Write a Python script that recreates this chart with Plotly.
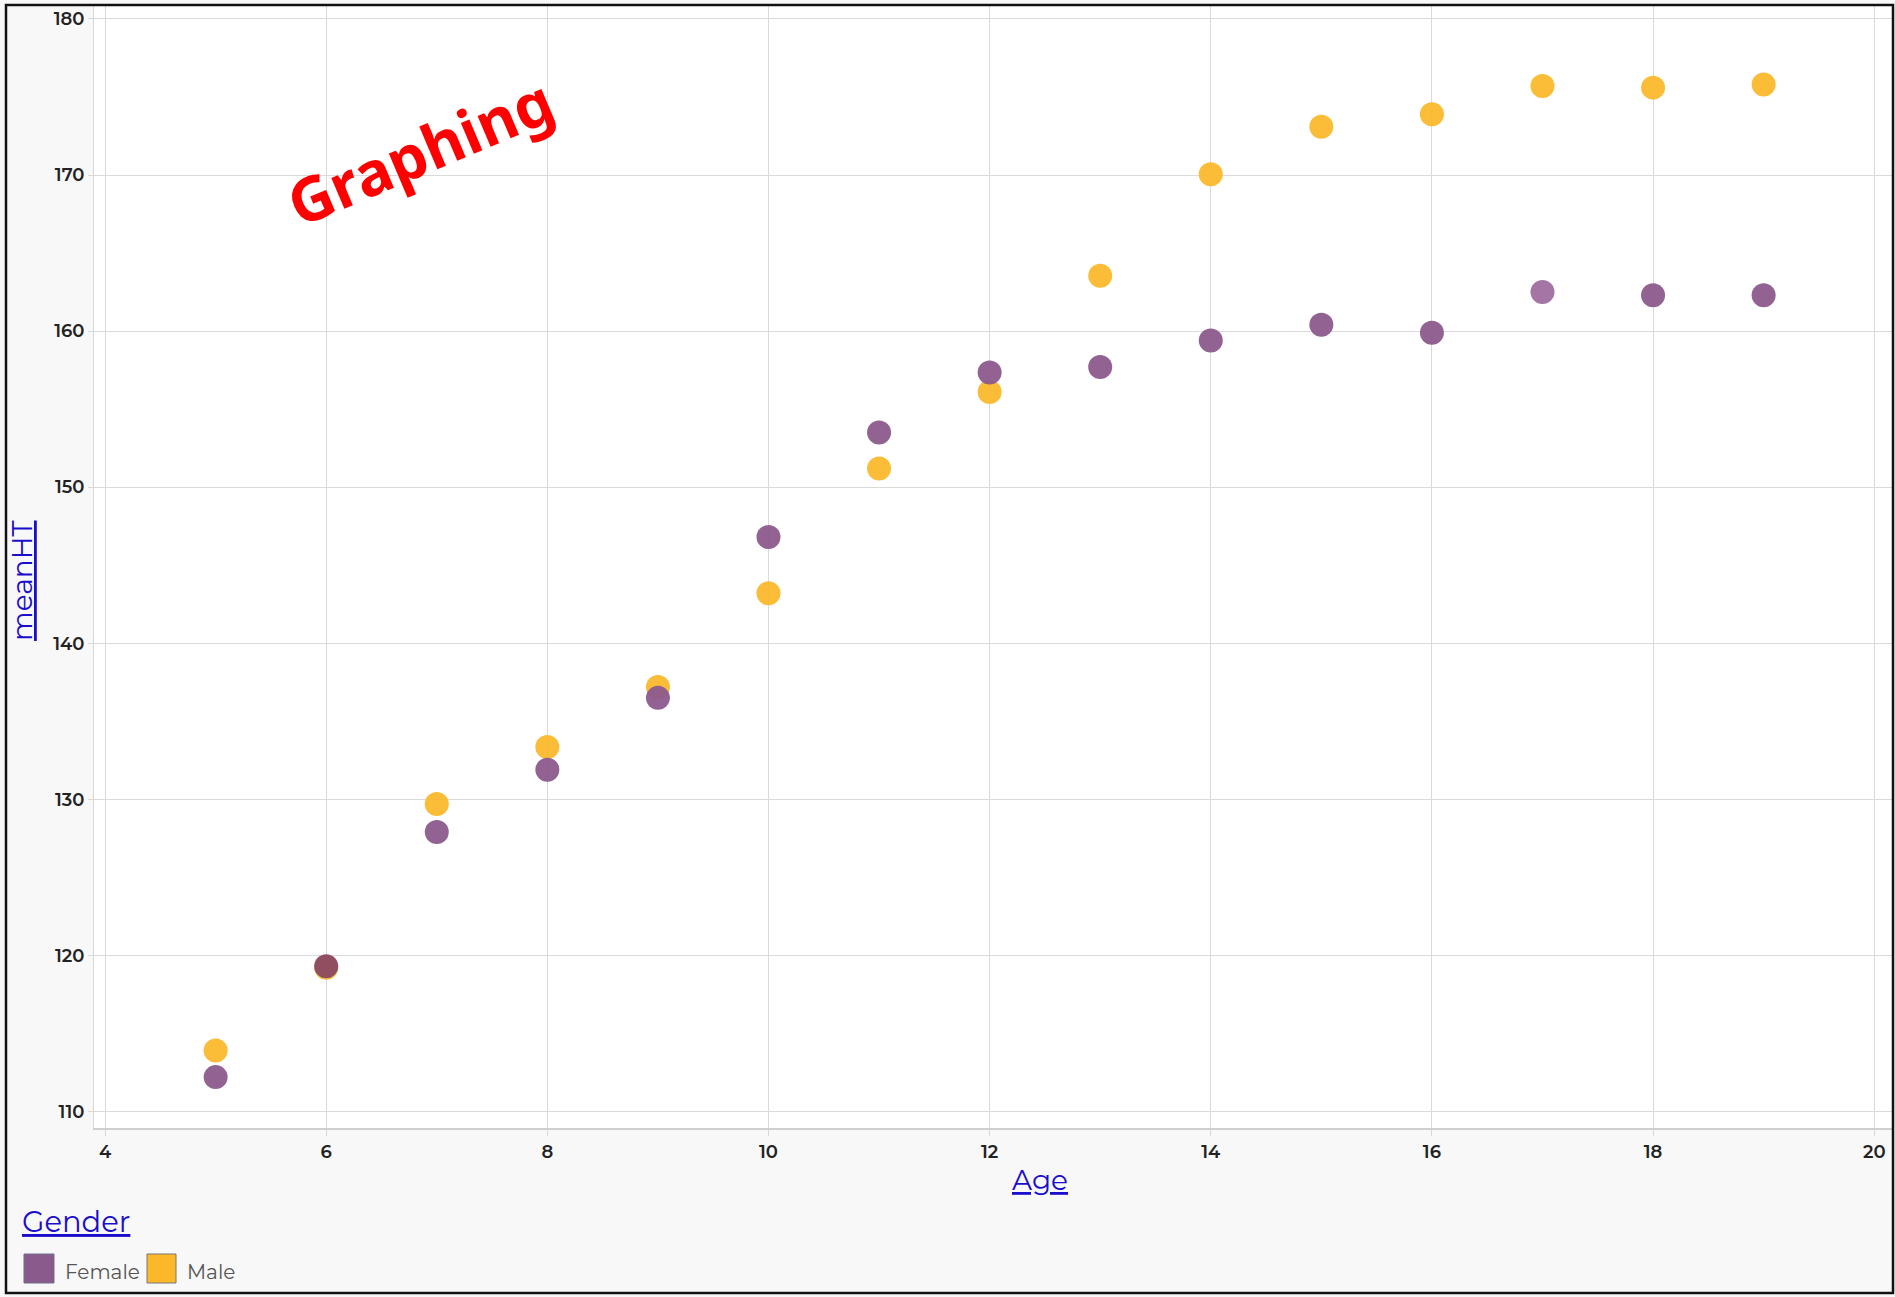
import plotly.graph_objects as go

# ---- data ----
ages = [5, 6, 7, 8, 9, 10, 11, 12, 13, 14, 15, 16, 17, 18, 19]
female_ht = [112.2, 119.3, 127.9, 131.9, 136.5, 146.8, 153.5, 157.35, 157.7, 159.4, 160.4, 159.9, 162.5, 162.3, 162.3]
male_ht = [113.9, 119.2, 129.7, 133.35, 137.2, 143.2, 151.2, 156.1, 163.55, 170.05, 173.1, 173.9, 175.7, 175.6, 175.8]
x_ticks = [4, 6, 8, 10, 12, 14, 16, 18, 20]
y_ticks = [110, 120, 130, 140, 150, 160, 170, 180]
legend_labels = ["Female", "Male"]

# ---- style ----
W, H = 1895, 1297
ML, MR, MT, MB = 94, 2, 6, 169
PW, PH = W - ML - MR, H - MT - MB
PURPLE = "#8b5a8c"
YELLOW = "#fbb829"
FONT = "Montserrat, Lato, sans-serif"
LINK = "#1a0dcc"
female_colors = [PURPLE, "#8a4862", PURPLE, PURPLE, PURPLE, PURPLE, PURPLE, PURPLE,
                 PURPLE, PURPLE, PURPLE, PURPLE, "#a06fa0", PURPLE, PURPLE]


def px(x):
    return (x - ML) / PW


def py(y):
    return 1 - (y - MT) / PH


fig = go.Figure()
fig.add_trace(go.Scatter(
    x=ages, y=male_ht, mode="markers", name="Male",
    marker=dict(size=24, color=YELLOW, opacity=0.93, line=dict(width=0)),
    showlegend=False))
fig.add_trace(go.Scatter(
    x=ages, y=female_ht, mode="markers", name="Female",
    marker=dict(size=24, color=female_colors, opacity=0.95, line=dict(width=0)),
    showlegend=False))

fig.update_layout(
    width=W, height=H,
    margin=dict(l=ML, r=MR, t=MT, b=MB, pad=0),
    paper_bgcolor="#f8f8f8",
    plot_bgcolor="#ffffff",
    font=dict(family=FONT, size=18, color="#222222"),
    xaxis=dict(range=[3.9, 20.17], tickvals=x_ticks, ticktext=[str(v) for v in x_ticks],
               showgrid=True, gridcolor="#dadada", gridwidth=1,
               showline=True, linecolor="#cfcfcf", linewidth=2,
               ticks="outside", ticklen=6, tickcolor="#d8d8d8",
               zeroline=False, tickfont=dict(size=18, color="#222", weight=600)),
    yaxis=dict(range=[108.94, 180.83], tickvals=y_ticks, ticktext=[str(v) for v in y_ticks],
               showgrid=True, gridcolor="#dadada", gridwidth=1,
               showline=True, linecolor="#d8d8d8", linewidth=1,
               ticks="outside", ticklen=5, tickcolor="#d8d8d8",
               zeroline=False, tickfont=dict(size=18, color="#222", weight=600)),
)


def ann(text, x, y, font, angle=0, xanchor="center"):
    return dict(text=text, x=px(x), y=py(y), xref="paper", yref="paper", showarrow=False,
                xanchor=xanchor, yanchor="middle", textangle=angle, font=font)


annotations = [
    ann("Graphing", 419, 151,
        dict(family="Noto Sans, Open Sans, sans-serif", size=61, color="#ff0000", weight="bold"), angle=-23),
    ann("Age", 1040, 1180, dict(family=FONT, size=28, color=LINK, lineposition="under")),
    ann("meanHT", 22, 581, dict(family=FONT, size=28, color=LINK, lineposition="under"), angle=-90),
    ann("Gender", 20, 1221, dict(family=FONT, size=29, color=LINK, lineposition="under"), xanchor="left"),
    ann(legend_labels[0], 63, 1272, dict(family=FONT, size=20, color="#555555"), xanchor="left"),
    ann(legend_labels[1], 185, 1272, dict(family=FONT, size=20, color="#555555"), xanchor="left"),
]
fig.update_layout(annotations=annotations)

shapes = [
    dict(type="rect", xref="paper", yref="paper", x0=px(24), x1=px(54), y0=py(1283), y1=py(1254),
         fillcolor=PURPLE, line=dict(color="#6e6e8a", width=1)),
    dict(type="rect", xref="paper", yref="paper", x0=px(147), x1=px(176), y0=py(1283), y1=py(1254),
         fillcolor=YELLOW, line=dict(color="#777777", width=1)),
    dict(type="rect", xref="paper", yref="paper", x0=px(6), x1=px(1893), y0=py(1293), y1=py(5),
         fillcolor="rgba(0,0,0,0)", line=dict(color="#111111", width=2.5), layer="above"),
]
fig.update_layout(shapes=shapes)

fig.write_html("out.html", config={"displayModeBar": False},
               post_script="document.body.style.margin='0';document.body.style.overflow='hidden';")
